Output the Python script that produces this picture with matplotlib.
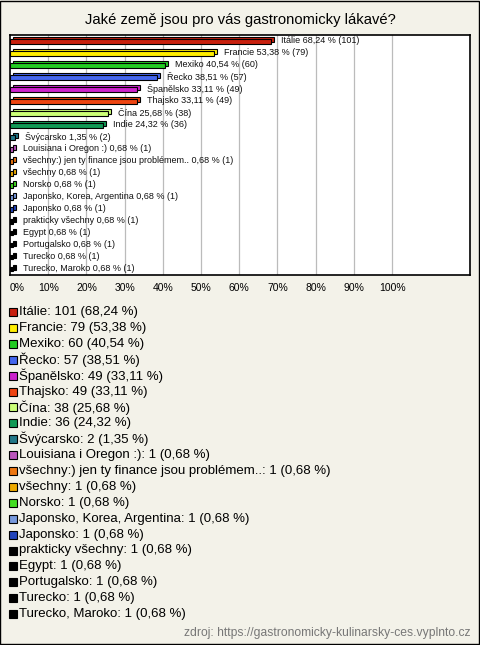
import matplotlib.pyplot as plt
from matplotlib.patches import Rectangle
import numpy as np

plt.rcParams['font.family'] = ['Liberation Sans', 'DejaVu Sans']

# answers, counts and shares
labels = ["Itálie", "Francie", "Mexiko", "Řecko", "Španělsko", "Thajsko", "Čína",
          "Indie", "Švýcarsko", "Louisiana i Oregon :)",
          "všechny:) jen ty finance jsou problémem..", "všechny", "Norsko",
          "Japonsko, Korea, Argentina", "Japonsko", "prakticky všechny", "Egypt",
          "Portugalsko", "Turecko", "Turecko, Maroko"]
counts = [101, 79, 60, 57, 49, 49, 38, 36, 2, 1, 1, 1, 1, 1, 1, 1, 1, 1, 1, 1]
percent = [68.24, 53.38, 40.54, 38.51, 33.11, 33.11, 25.68, 24.32, 1.35,
           0.68, 0.68, 0.68, 0.68, 0.68, 0.68, 0.68, 0.68, 0.68, 0.68, 0.68]
colors = ["#c8200e", "#ffee00", "#22cc22", "#4466ee", "#cc22cc", "#ee4411",
          "#ccff77", "#119955", "#227788", "#bb55bb", "#ee7711", "#eeaa00",
          "#44dd22", "#7799dd", "#2244bb", "#000000", "#000000", "#000000",
          "#000000", "#000000"]
ticks = [0, 10, 20, 30, 40, 50, 60, 70, 80, 90, 100]


def pct(v):
    return f"{v:.2f}".replace(".", ",")


bg = "#f3f2e9"
W, H = 480, 645
fig = plt.figure(figsize=(W / 100, H / 100), dpi=100, facecolor=bg)

# outer frame
fig.patches.append(Rectangle((0.001, 0.001), 0.997, 0.997, transform=fig.transFigure,
                             fill=False, edgecolor="black", linewidth=1))

fig.text(0.5, 1 - 20 / H, "Jaké země jsou pro vás gastronomicky lákavé?",
         ha="center", va="center", fontsize=10.6)

ax = fig.add_axes([10 / W, 1 - 275 / H, 460 / W, 240 / H])
ax.set_facecolor("white")
n = len(labels)
y = np.arange(n)
for t in ticks[1:]:
    ax.axvline(t, color="#bbbbbb", linewidth=0.9, zorder=0)

h = 0.4
# back face for the 3d look
ax.barh(y - 0.15, percent, left=0.8, height=h, color=colors, edgecolor="black",
        linewidth=0.8, zorder=2)
ax.barh(y, percent, height=h, color=colors, edgecolor="black", linewidth=0.8, zorder=3)

for i in range(n):
    ax.text(percent[i] + 2.7, y[i] - 0.05,
            f"{labels[i]} {pct(percent[i])} % ({counts[i]})",
            va="center", ha="left", fontsize=6.5, color="#111111", zorder=4)

ax.set_xlim(0, 120.4)
ax.set_ylim(n - 0.5, -0.55)
ax.set_yticks([])
ax.set_xticks(ticks)
ax.set_xticklabels([f"{t}%" for t in ticks], fontsize=7.5)
ax.get_xticklabels()[0].set_horizontalalignment("left")
ax.tick_params(axis="x", length=0, pad=6)
for s in ax.spines.values():
    s.set_linewidth(1.2)

# legend
for i in range(n):
    yc = 1 - (312 + i * 15.9) / H
    fig.patches.append(Rectangle((9 / W, yc - 4 / H), 8 / W, 8 / H,
                                 transform=fig.transFigure, facecolor=colors[i],
                                 edgecolor="black", linewidth=0.8))
    fig.text(19 / W, yc, f"{labels[i]}: {counts[i]} ({pct(percent[i])} %)",
             ha="left", va="center", fontsize=9.5)

fig.text(470 / W, 1 - 633 / H, "zdroj: https://gastronomicky-kulinarsky-ces.vyplnto.cz",
         ha="right", va="center", fontsize=8.7, color="#777777")

fig.savefig("out.png", dpi=100, facecolor=bg)
